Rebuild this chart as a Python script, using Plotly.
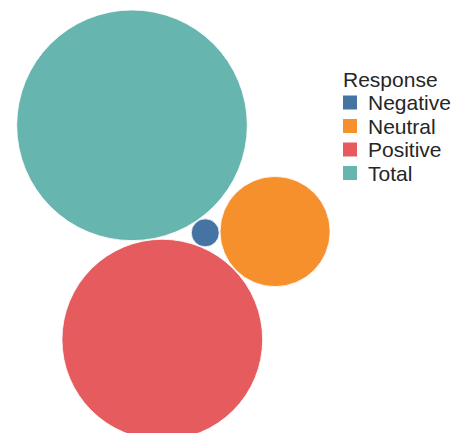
import math
import plotly.graph_objects as go

# ---- data ----
categories = ["Negative", "Neutral", "Positive", "Total"]
values = [2, 31, 103, 136]
colors = ["#4573a4", "#f6902d", "#e55b5e", "#67b5af"]
legend_title = "Response"

# ---- layout parameters (pixels) ----
W, H = 454, 433
K = 9.887          # radius (px) per sqrt(value)
PAD = 0.8          # gap between packed circles
THETA = math.atan2(213.6, 30.2)   # direction of 2nd circle from the first (screen coords)
ANCHOR = (132.0, 125.3)           # pixel position of the largest bubble

val = dict(zip(categories, values))
rad = {c: K * math.sqrt(v) for c, v in val.items()}


def tangent(c1, r1, c2, r2, r, pick):
    d1, d2 = r1 + r + PAD, r2 + r + PAD
    dx, dy = c2[0] - c1[0], c2[1] - c1[1]
    d = math.hypot(dx, dy)
    a = (d1 ** 2 - d2 ** 2 + d ** 2) / (2 * d)
    h = math.sqrt(max(d1 ** 2 - a ** 2, 0))
    bx, by = c1[0] + a * dx / d, c1[1] + a * dy / d
    cands = [(bx - h * dy / d, by + h * dx / d), (bx + h * dy / d, by - h * dx / d)]
    return max(cands, key=pick)


# simple front-chain packing, largest first
pos = {}
pos["Total"] = (0.0, 0.0)
dist = rad["Total"] + rad["Positive"] + PAD
pos["Positive"] = (dist * math.cos(THETA), dist * math.sin(THETA))
pos["Negative"] = tangent(pos["Total"], rad["Total"], pos["Positive"], rad["Positive"],
                          rad["Negative"], pick=lambda p: p[0])
pos["Neutral"] = tangent(pos["Positive"], rad["Positive"], pos["Negative"], rad["Negative"],
                         rad["Neutral"], pick=lambda p: math.hypot(p[0], p[1]))

fig = go.Figure()
for cat, col in zip(categories, colors):
    fig.add_trace(go.Scatter(
        x=[pos[cat][0]], y=[pos[cat][1]], mode="markers", name=cat,
        marker=dict(size=2 * rad[cat], sizemode="diameter", color=col,
                    line=dict(color="white", width=0.8), opacity=1),
        showlegend=False, hoverinfo="name+text", text=[str(val[cat])],
    ))

# ---- custom legend (to match spacing) ----
FONT = dict(family="Liberation Sans, Arial, sans-serif", size=21, color="#262626")
LEG_X, LEG_TITLE_Y, ROW0, ROW_STEP, SW = 343.0, 79.5, 102.5, 23.5, 14
fig.add_annotation(x=(LEG_X - 2) / W, y=1 - LEG_TITLE_Y / H, xref="paper", yref="paper",
                   text=legend_title, showarrow=False, xanchor="left", yanchor="middle", font=FONT)
for i, (cat, col) in enumerate(zip(categories, colors)):
    cy = ROW0 + ROW_STEP * i
    fig.add_shape(type="rect", xref="paper", yref="paper",
                  x0=LEG_X / W, x1=(LEG_X + SW) / W,
                  y0=1 - (cy - SW / 2) / H, y1=1 - (cy + SW / 2) / H,
                  fillcolor=col, line=dict(width=0))
    fig.add_annotation(x=(LEG_X + 23) / W, y=1 - cy / H, xref="paper", yref="paper",
                       text=cat, showarrow=False, xanchor="left", yanchor="middle", font=FONT)

ax = dict(visible=False, showgrid=False, zeroline=False, fixedrange=True)
fig.update_layout(
    width=W, height=H, autosize=False,
    margin=dict(l=0, r=0, t=0, b=0, pad=0),
    paper_bgcolor="white", plot_bgcolor="white",
    xaxis=dict(range=[-ANCHOR[0], W - ANCHOR[0]], **ax),
    yaxis=dict(range=[H - ANCHOR[1], -ANCHOR[1]], **ax),
    font=FONT,
)

fig.write_html("out.html", config={"displayModeBar": False})
